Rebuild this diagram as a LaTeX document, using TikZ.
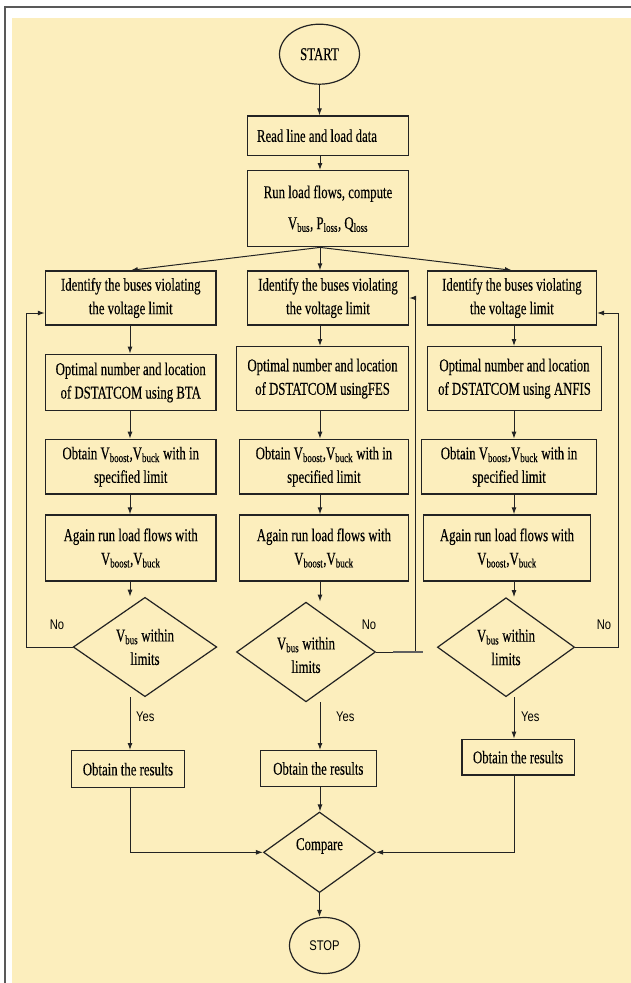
\documentclass[tikz,border=0pt]{standalone}
\usepackage{fontspec}
\setmainfont{Liberation Serif}[FakeStretch=0.71,FakeBold=0.3]
\newfontfamily\labfont{Liberation Sans}[FakeStretch=0.8]
\usetikzlibrary{shapes.geometric,arrows.meta}
\definecolor{bgyellow}{RGB}{252,238,189}
\definecolor{ink}{RGB}{35,35,35}
\begin{document}
\begin{tikzpicture}[x=1pt,y=-1pt,
  box/.style={draw=ink,line width=1.4pt,rectangle,inner sep=0pt,align=center,font=\fontsize{18}{23.5}\selectfont},
  dia/.style={draw=ink,line width=1.2pt,diamond,inner sep=0pt},
  term/.style={draw=ink,line width=1.2pt,ellipse,inner sep=0pt},
  txt/.style={align=center,inner sep=0pt,font=\fontsize{18}{23.5}\selectfont},
  lab/.style={inner sep=0pt,font=\labfont\fontsize{14}{16}\selectfont},
  arr/.style={draw=ink,line width=1pt,-{Latex[length=7pt,width=5pt]}},
  ln/.style={draw=ink,line width=1pt}]
\useasboundingbox (0,0) rectangle (631,983);
\fill[bgyellow] (12,17.7) rectangle (631,983);
\draw[gray!70!black,line width=2pt] (4.8,983) -- (4.8,7.3) -- (631,7.3);

% column guide coordinates
\coordinate (cL) at (130,0);
\coordinate (cM) at (320,0);
\coordinate (cR) at (514,0);
\coordinate (fbL) at (26,0);
\coordinate (fbM) at (415,0);
\coordinate (fbR) at (618.5,0);

% top
\node[term,minimum width=80pt,minimum height=60pt,font=\fontsize{18}{20}\selectfont] (start) at (319.5,54.2) {START};
\node[draw=ink,line width=1.4pt,rectangle,inner sep=0pt,font=\fontsize{18}{23.5}\selectfont,minimum width=161pt,minimum height=39.3pt] (read) at (328,135.7) {Read line and load data\hspace*{22pt}};
\node[box,minimum width=161pt,minimum height=76pt,font=\fontsize{18}{31}\selectfont] (run) at (328,208.7) {Run load flows, compute\\V\textsubscript{bus}, P\textsubscript{loss}, Q\textsubscript{loss}};

% identify row
\node[box,minimum width=170.5pt,minimum height=54pt] (idL) at (130.75,298) {Identify the buses violating\\the voltage limit};
\node[box,minimum width=161pt,minimum height=54pt] (idM) at (328,298) {Identify the buses violating\\the voltage limit};
\node[box,minimum width=169pt,minimum height=54pt] (idR) at (511.9,298) {Identify the buses violating\\the voltage limit};

% optimal row
\node[box,minimum width=170.5pt,minimum height=56.4pt] (optL) at (130.75,382.5) {Optimal number and location\\of DSTATCOM using BTA};
\node[box,minimum width=171.9pt,minimum height=64pt] (optM) at (322.55,378.7) {Optimal number and location\\of DSTATCOM usingFES};
\node[box,minimum width=174.2pt,minimum height=64pt] (optR) at (514.5,378.7) {Optimal number and location\\of DSTATCOM using ANFIS};

% obtain row
\node[box,minimum width=170.5pt,minimum height=54.7pt] (obtL) at (130.75,466.7) {Obtain V\textsubscript{boost},V\textsubscript{buck} with in\\specified limit};
\node[box,minimum width=169.1pt,minimum height=54.7pt] (obtM) at (323.95,466.7) {Obtain V\textsubscript{boost},V\textsubscript{buck} with in\\specified limit};
\node[box,minimum width=174.7pt,minimum height=54.7pt] (obtR) at (509.05,466.7) {Obtain V\textsubscript{boost},V\textsubscript{buck} with in\\specified limit};

% again row
\node[box,minimum width=170.5pt,minimum height=66pt] (agL) at (130.75,548) {Again run load flows with\\V\textsubscript{boost},V\textsubscript{buck}};
\node[box,minimum width=169.1pt,minimum height=66pt] (agM) at (323.95,548) {Again run load flows with\\V\textsubscript{boost},V\textsubscript{buck}};
\node[box,minimum width=167.4pt,minimum height=66pt] (agR) at (507,548) {Again run load flows with\\V\textsubscript{boost},V\textsubscript{buck}};

% decision diamonds
\node[dia,minimum width=143.6pt,minimum height=99.4pt] (dL) at (145,647) {};
\node[dia,minimum width=139pt,minimum height=99.7pt] (dM) at (306,652) {};
\node[dia,minimum width=137.2pt,minimum height=99pt] (dR) at (506,647.2) {};
\node[txt] (tL) at (dL) {V\textsubscript{bus} within\\limits};
\node[txt] (tM) at ([yshift=-3pt]dM.center) {V\textsubscript{bus} within\\limits};
\node[txt] (tR) at (dR) {V\textsubscript{bus} within\\limits};

% results
\node[box,minimum width=112.7pt,minimum height=37pt] (resL) at (127.95,769.2) {Obtain the results};
\node[box,minimum width=115.9pt,minimum height=35.6pt] (resM) at (318.35,768.5) {Obtain the results};
\node[box,minimum width=112.2pt,minimum height=35.7pt] (resR) at (518.1,757.15) {Obtain the results};

% compare and stop
\node[dia,minimum width=112pt,minimum height=80.6pt] (cmp) at (319.5,852.3) {};
\node[txt] (tC) at (319.5,846) {Compare};
\node[term,minimum width=70pt,minimum height=56pt,font=\labfont\fontsize{14}{16}\selectfont] (stop) at (324.5,945.5) {STOP};

% labels
\node[lab,anchor=west] (yesL) at (136,717) {Yes};
\node[lab,anchor=west] (yesM) at (336,717) {Yes};
\node[lab,anchor=west] (yesR) at (521,717) {Yes};
\node[lab] (noL) at (57,625) {No};
\node[lab] (noM) at (369,625) {No};
\node[lab] (noR) at (604,625) {No};

% top connectors
\draw[arr] (start.south) -- (start.south |- read.north);
\draw[arr] (cM |- read.south) -- (cM |- run.north);
\draw[arr] (cM |- run.south) -- (idL.north);
\draw[arr] (cM |- run.south) -- (cM |- idM.north);
\draw[arr] (cM |- run.south) -- (idR.north);

% left column
\draw[arr] (cL |- idL.south) -- (cL |- optL.north);
\draw[arr] (cL |- optL.south) -- (cL |- obtL.north);
\draw[arr] (cL |- obtL.south) -- (cL |- agL.north);
\draw[arr] (cL |- agL.south) -- (cL |- dL.north);
\draw[arr] (cL |- dL.south) -- (cL |- resL.north);
\draw[arr] (cL |- resL.south) |- (cmp.west);
\draw[arr] (dL.west) -- (dL.west -| fbL) |- ([yshift=-15pt]idL.west);

% middle column
\draw[arr] (cM |- idM.south) -- (cM |- optM.north);
\draw[arr] (cM |- optM.south) -- (cM |- obtM.north);
\draw[arr] (cM |- obtM.south) -- (cM |- agM.north);
\draw[arr] (cM |- agM.south) -- (cM |- dM.north);
\draw[arr] (cM |- dM.south) -- (cM |- resM.north);
\draw[arr] (cM |- resM.south) -- (cM |- cmp.north);
\draw[arr] (dM.east) -- (dM.east -| fbM) |- (idM.east);
\draw[gray!75!black,line width=2pt] ([xshift=17pt]dM.east) -- ([xshift=47pt]dM.east);

% right column
\draw[arr] (cR |- idR.south) -- (cR |- optR.north);
\draw[arr] (cR |- optR.south) -- (cR |- obtR.north);
\draw[arr] (cR |- obtR.south) -- (cR |- agR.north);
\draw[arr] (cR |- agR.south) -- (cR |- dR.north);
\draw[arr] (cR |- dR.south) -- (cR |- resR.north);
\draw[arr] (cR |- resR.south) |- (cmp.east);
\draw[arr] (dR.east) -- (dR.east -| fbR) |- ([yshift=-15pt]idR.east);

% bottom
\draw[arr] (cmp.south) -- (cmp.south |- stop.north);
\end{tikzpicture}
\end{document}
